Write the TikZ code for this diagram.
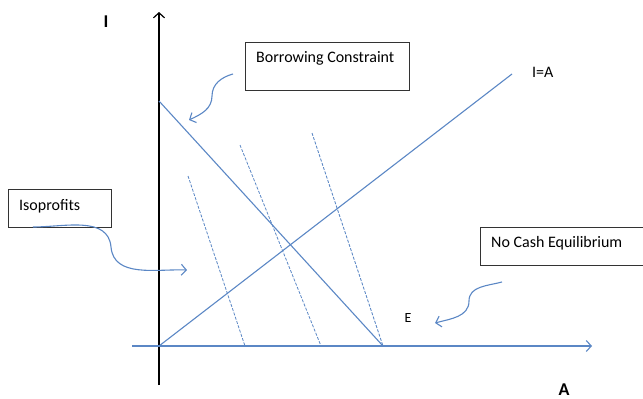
\documentclass[tikz,border=0pt]{standalone}
\usepackage{fontspec}
\setmainfont{Carlito}
\usetikzlibrary{arrows.meta}
\definecolor{lineblue}{HTML}{5B87C5}
\tikzset{
  bl/.style={draw=lineblue, line width=1.1pt},
  dsh/.style={draw=lineblue, line width=0.8pt, dash pattern=on 3pt off 1.5pt},
  box/.style={draw=black!80, line width=0.8pt, rectangle, inner sep=0pt},
  lbl/.style={font=\fontsize{16}{18}\selectfont, inner sep=0pt, anchor=west},
  axlbl/.style={font=\fontsize{18}{20}\selectfont\bfseries, inner sep=0pt},
  tip/.style={-{Straight Barb[length=5pt,width=11pt]}},
}
\begin{document}
\begin{tikzpicture}[x=1pt,y=1pt]
\useasboundingbox (0,0) rectangle (643,-399);
% coordinates
\coordinate (O) at (159,-346);
\coordinate (ytop) at (159,-12);
\coordinate (ybot) at (159,-385);
\coordinate (xleft) at (132,-346);
\coordinate (xright) at (592,-346);
\coordinate (bc) at (159,-101);
\coordinate (bcend) at (383,-346);
\coordinate (ia) at (512,-74);
\coordinate (d1t) at (188,-176);
\coordinate (d1b) at (245,-346);
\coordinate (d2t) at (240,-145);
\coordinate (d2b) at (321,-346);
\coordinate (d3t) at (312,-133);
\coordinate (d3b) at (383,-346);
% axes
\draw[black, line width=1.2pt, tip] (ybot) -- (ytop);
\draw[bl, tip] (xleft) -- (xright);
% lines
\draw[bl] (bc) -- (bcend);
\draw[bl] (O) -- (ia);
\draw[dsh] (d1t) -- (d1b);
\draw[dsh] (d2t) -- (d2b);
\draw[dsh] (d3t) -- (d3b);
% labels
\node[axlbl] (lI) at (106,-22) {I};
\node[axlbl] (lA) at (564,-390) {A};
\node[lbl] (lIA) at (532,-72) {I=A};
\node[font=\fontsize{14}{16}\selectfont, inner sep=0pt] (lE) at (408,-318) {E};
% boxes
\node[box, minimum width=164pt, minimum height=48pt] (bcbox) at (327,-66) {};
\node[lbl] (bctext) at (256,-58) {Borrowing Constraint};
\node[box, minimum width=103pt, minimum height=38pt] (isobox) at (59.5,-208) {};
\node[lbl] (isotext) at (19,-206) {Isoprofits};
\node[box, minimum width=164pt, minimum height=38pt] (ncbox) at (562,-246) {};
\node[lbl] (nctext) at (491,-243) {No Cash Equilibrium};
% curved arrows
\coordinate (c1s) at (233,-74);
\coordinate (c1m) at (212,-96);
\coordinate (c1e) at (189,-120);
\draw[bl, tip] (c1s) to[out=195,in=90] (c1m) to[out=-90,in=25] (c1e);
\coordinate (c2s) at (33,-227);
\coordinate (c2m) at (111,-247);
\coordinate (c2e) at (187,-270);
\draw[bl, tip] (c2s) to[out=0,in=95] (c2m) to[out=-85,in=178] (c2e);
\coordinate (c3s) at (502,-282);
\coordinate (c3m) at (469,-301);
\coordinate (c3e) at (435,-323);
\draw[bl, tip] (c3s) to[out=195,in=90] (c3m) to[out=-90,in=15] (c3e);
\end{tikzpicture}
\end{document}
